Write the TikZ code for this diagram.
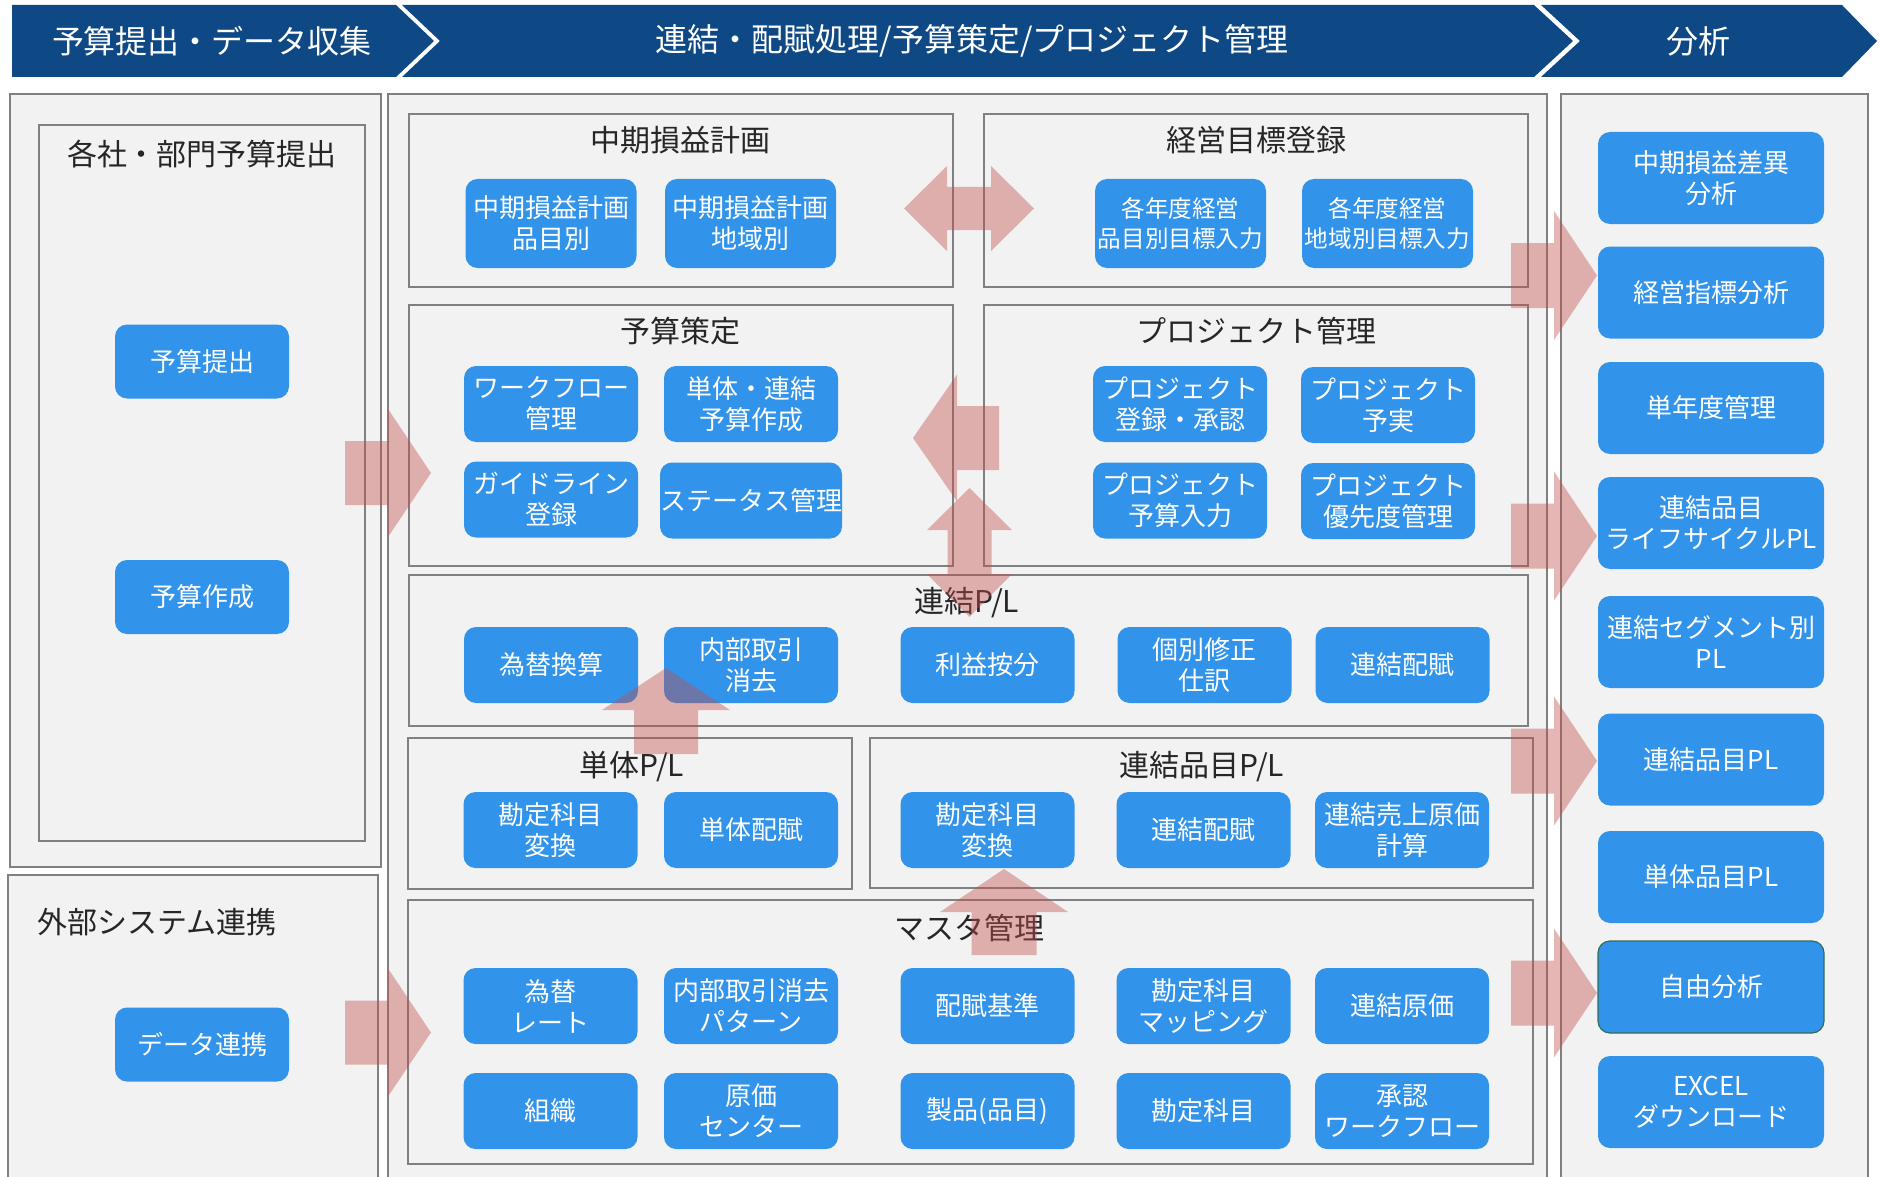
\documentclass[tikz,border=0pt]{standalone}
\usepackage{fontspec}
\setmainfont{Noto Sans CJK JP}
\definecolor{navy}{RGB}{14,73,133}
\definecolor{btnblue}{RGB}{50,147,234}
\definecolor{panelgray}{RGB}{242,242,242}
\definecolor{linegray}{RGB}{128,128,128}
\definecolor{arrred}{RGB}{192,80,77}
\definecolor{titlecol}{RGB}{38,38,38}
\definecolor{tealedge}{RGB}{47,110,90}
\tikzset{
  panel/.style={fill=panelgray, draw=linegray, line width=1.1pt},
  ttl/.style={text=titlecol, font=\fontsize{15pt}{18pt}\selectfont, inner sep=0pt},
  hdr/.style={text=white, font=\fontsize{16pt}{19pt}\selectfont, inner sep=0pt},
  btn/.style={fill=btnblue, rounded corners=6pt, text=white, align=center, inner sep=0pt,
    font=\fontsize{13pt}{15.5pt}\selectfont, minimum width=87pt, minimum height=38pt},
  btnm/.style={btn, minimum width=85.5pt, minimum height=44.5pt},
  btnl/.style={btn, minimum width=87pt, minimum height=37pt},
  btnr/.style={btn, minimum width=113pt, minimum height=46pt},
  blk/.style={fill=arrred, fill opacity=0.42, draw=none}
}
\begin{document}
\begin{tikzpicture}[x=0.5pt,y=-0.5pt]
\useasboundingbox (0,0) rectangle (1881,1177);
\clip (0,0) rectangle (1881,1177);
% header banners
\fill[navy] (12,5) -- (396,5) -- (434,41) -- (396,77) -- (12,77) -- cycle;
\fill[navy] (402,5) -- (1534,5) -- (1573,41) -- (1534,77) -- (402,77) -- (440,41) -- cycle;
\fill[navy] (1541,5) -- (1842,5) -- (1877,41) -- (1842,77) -- (1541,77) -- (1580,41) -- cycle;
\node[hdr] (h1) at (212,41) {予算提出・データ収集};
\node[hdr] (h2) at (972,41) {連結・配賦処理/予算策定/プロジェクト管理};
\node[hdr] (h3) at (1698,41) {分析};
% panels
\draw[panel] (10,94) rectangle (381,867);
\draw[panel] (39,125) rectangle (365,841);
\draw[panel] (8,875) rectangle (378,1200);
\draw[panel] (388,94) rectangle (1547,1200);
\draw[panel] (1561,94) rectangle (1868,1200);
% inner boxes
\draw[panel] (409,114) rectangle (953,287);
\draw[panel] (984,114) rectangle (1528,287);
\draw[panel] (409,305) rectangle (953,566);
\draw[panel] (984,305) rectangle (1528,566);
\draw[panel] (409,575) rectangle (1528,726);
\draw[panel] (408,738) rectangle (852,889);
\draw[panel] (870,738) rectangle (1533,888);
\draw[panel] (408,900) rectangle (1533,1164);
% titles
\node[ttl] (t1) at (202,154) {各社・部門予算提出};
\node[ttl, anchor=west] (t2) at (37,922) {外部システム連携};
\node[ttl] (t3) at (680,140) {中期損益計画};
\node[ttl] (t4) at (1256,140) {経営目標登録};
\node[ttl] (t5) at (680,331) {予算策定};
\node[ttl] (t6) at (1256,331) {プロジェクト管理};
\node[ttl] (t7) at (967,603) {連結P/L};
\node[ttl] (t8) at (632,767) {単体P/L};
\node[ttl] (t9) at (1202,767) {連結品目P/L};
\node[ttl] (t10) at (969,928) {マスタ管理};
% left buttons
\node[btnl] (l1) at (202,361.5) {予算提出};
\node[btnl] (l2) at (202,597) {予算作成};
\node[btnl] (l3) at (202,1044.5) {データ連携};
% mid-term
\node[btnm] (m1) at (551,223.5) {中期損益計画\\品目別};
\node[btnm] (m2) at (750.5,223.5) {中期損益計画\\地域別};
\node[btnm, font=\fontsize{11.8pt}{15pt}\selectfont] (m3) at (1180.5,223.5) {各年度経営\\品目別目標入力};
\node[btnm, font=\fontsize{11.8pt}{15pt}\selectfont] (m4) at (1387.5,223.5) {各年度経営\\地域別目標入力};
% budget
\node[btn] (y1) at (551,404) {ワークフロー\\管理};
\node[btn] (y2) at (751,404) {単体・連結\\予算作成};
\node[btn] (y3) at (551,499.5) {ガイドライン\\登録};
\node[btn] (y4) at (751,500.5) {ステータス管理};
% project
\node[btn] (p1) at (1180,404) {プロジェクト\\登録・承認};
\node[btn] (p2) at (1388,405) {プロジェクト\\予実};
\node[btn] (p3) at (1180,500.5) {プロジェクト\\予算入力};
\node[btn] (p4) at (1388,501) {プロジェクト\\優先度管理};
% consolidated PL
\node[btn] (c1) at (551,665) {為替換算};
\node[btn] (c2) at (751,665) {内部取引\\消去};
\node[btn] (c3) at (987.5,665) {利益按分};
\node[btn] (c4) at (1204.5,665) {個別修正\\仕訳};
\node[btn] (c5) at (1402.5,665) {連結配賦};
% single PL
\node[btn] (s1) at (550.5,830) {勘定科目\\変換};
\node[btn] (s2) at (751,830) {単体配賦};
% item PL
\node[btn] (i1) at (987.5,830) {勘定科目\\変換};
\node[btn] (i2) at (1203.5,830) {連結配賦};
\node[btn] (i3) at (1402,830) {連結売上原価\\計算};
% master
\node[btn] (k1) at (550.5,1006) {為替\\レート};
\node[btn] (k2) at (751,1006) {内部取引消去\\パターン};
\node[btn] (k3) at (987.5,1006) {配賦基準};
\node[btn] (k4) at (1203.5,1006) {勘定科目\\マッピング};
\node[btn] (k5) at (1402,1006) {連結原価};
\node[btn] (k6) at (550.5,1111) {組織};
\node[btn] (k7) at (751,1111) {原価\\センター};
\node[btn] (k8) at (987.5,1111) {製品(品目)};
\node[btn] (k9) at (1203.5,1111) {勘定科目};
\node[btn] (k10) at (1402,1111) {承認\\ワークフロー};
% analysis
\node[btnr] (a1) at (1711,178) {中期損益差異\\分析};
\node[btnr] (a2) at (1711,292.5) {経営指標分析};
\node[btnr] (a3) at (1711,408) {単年度管理};
\node[btnr] (a4) at (1711,523) {連結品目\\ライフサイクルPL};
\node[btnr] (a5) at (1711,642) {連結セグメント別\\PL};
\node[btnr] (a6) at (1711,759.5) {連結品目PL};
\node[btnr] (a7) at (1711,877) {単体品目PL};
\node[btnr, draw=tealedge, line width=0.6pt] (a8) at (1711,987) {自由分析};
\node[btnr] (a9) at (1711,1102) {EXCEL\\ダウンロード};
% block arrows (right-pointing into analysis)
\foreach \cy in {275.5,536,761,993}{
  \fill[blk] (1511,\cy-32.5) -- (1554,\cy-32.5) -- (1554,\cy-64.5) -- (1597,\cy)
    -- (1554,\cy+64.5) -- (1554,\cy+32.5) -- (1511,\cy+32.5) -- cycle;
}
% left arrows into middle
\foreach \cy in {473,1032.5}{
  \fill[blk] (345,\cy-32) -- (388,\cy-32) -- (388,\cy-64) -- (431,\cy)
    -- (388,\cy+64) -- (388,\cy+32) -- (345,\cy+32) -- cycle;
}
% double horizontal arrow
\fill[blk] (904,208.5) -- (947,166) -- (947,187) -- (991,187) -- (991,166) -- (1034,208.5)
  -- (991,251) -- (991,230) -- (947,230) -- (947,251) -- cycle;
% left arrow project -> budget
\fill[blk] (913,438) -- (957,374.5) -- (957,406) -- (999,406) -- (999,470) -- (957,470) -- (957,501.5) -- cycle;
% vertical double arrow
\fill[blk] (969.5,488) -- (1012,530) -- (991.5,530) -- (991.5,574) -- (1012,574) -- (969.5,617)
  -- (927,574) -- (947.5,574) -- (947.5,530) -- (927,530) -- cycle;
% up arrow single PL -> consolidated PL
\fill[blk] (666,668) -- (730,710) -- (698,710) -- (698,754) -- (634,754) -- (634,710) -- (602,710) -- cycle;
% up arrow master -> item PL
\fill[blk] (1004,869) -- (1068,912) -- (1036.5,912) -- (1036.5,955) -- (971.5,955) -- (971.5,912) -- (940,912) -- cycle;
\end{tikzpicture}
\end{document}
